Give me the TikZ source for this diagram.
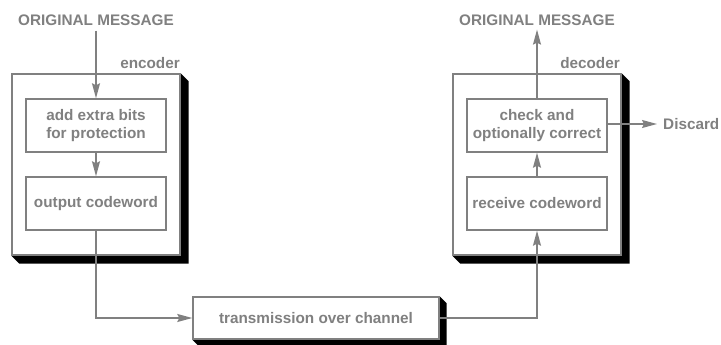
\documentclass[tikz,border=0pt]{standalone}
\usepackage{fontspec}
\setmainfont{Liberation Sans}
\usepackage{tikz}
\usetikzlibrary{arrows.meta, positioning, calc, backgrounds}
\definecolor{linegray}{HTML}{808080}
\newcommand{\boxshadow}[2]{%
  \begin{pgfonlayer}{background}
  \fill[black] (#1.north east) -- ($(#1.north east)+(#2pt,-#2pt)$)
    -- ($(#1.south east)+(#2pt,-#2pt)$) -- ($(#1.south west)+(#2pt,-#2pt)$)
    -- (#1.south west) -- (#1.south east) -- cycle;
  \end{pgfonlayer}
}

\begin{document}
\begin{tikzpicture}[
  x=1pt, y=-1pt,
  >=Stealth,
  every node/.style={font=\fontsize{15.3}{18}\selectfont\bfseries, text=linegray},
  unit/.style={rectangle, draw=linegray, line width=1.4pt, fill=white,
               minimum width=168pt, minimum height=181pt, inner sep=0pt},
  stage/.style={rectangle, draw=linegray, line width=1.4pt, fill=white,
                minimum width=140pt, minimum height=53pt, align=center, inner sep=0pt},
  channel/.style={rectangle, draw=linegray, line width=1.4pt, fill=white,
                  minimum width=246pt, minimum height=42pt, inner sep=0pt},
  tag/.style={inner sep=0pt},
  flow/.style={-{Stealth[length=15pt, width=8pt, inset=2pt]}, line width=1.4pt, linegray}
]
\useasboundingbox (0,0) rectangle (721,345);

% encoder side
\node[unit] (enc) at (96,164.5) {};
\boxshadow{enc}{8}
\node[tag, anchor=east] (enctag) at (180,63) {encoder};
\node[stage] (addbits) at (96,125.5) {add extra bits\\for protection};
\node[stage] (outcw) at (96,203.5) {output codeword};
\node[tag] (msgin) at (96,20) {ORIGINAL MESSAGE};

% decoder side
\node[unit] (dec) at (537,164.5) {};
\boxshadow{dec}{8}
\node[tag, anchor=east] (dectag) at (620,63) {decoder};
\node[stage] (check) at (537,125.5) {check and\\optionally correct};
\node[stage] (recvcw) at (537,203.5) {receive codeword};
\node[tag] (msgout) at (537,20) {ORIGINAL MESSAGE};
\node[tag, anchor=west] (discard) at (663,124) {Discard};

% channel
\node[channel] (chan) at (316,318) {transmission over channel};
\boxshadow{chan}{7}

\draw[flow] (msgin.south) ++(0,-5pt) coordinate (msgfoot) -- (addbits.north);
\draw[flow] (addbits) -- (outcw);
\draw[flow] (outcw.south) |- (chan.west);
\draw[flow] (chan.east) -| (recvcw.south);
\draw[flow] (recvcw) -- (check);
\draw[flow] (check.north) -- ($(msgout.south)+(0,-4pt)$);
\draw[flow] (check.east |- discard.west) -- ($(discard.west)+(-6pt,0)$);

\end{tikzpicture}
\end{document}
